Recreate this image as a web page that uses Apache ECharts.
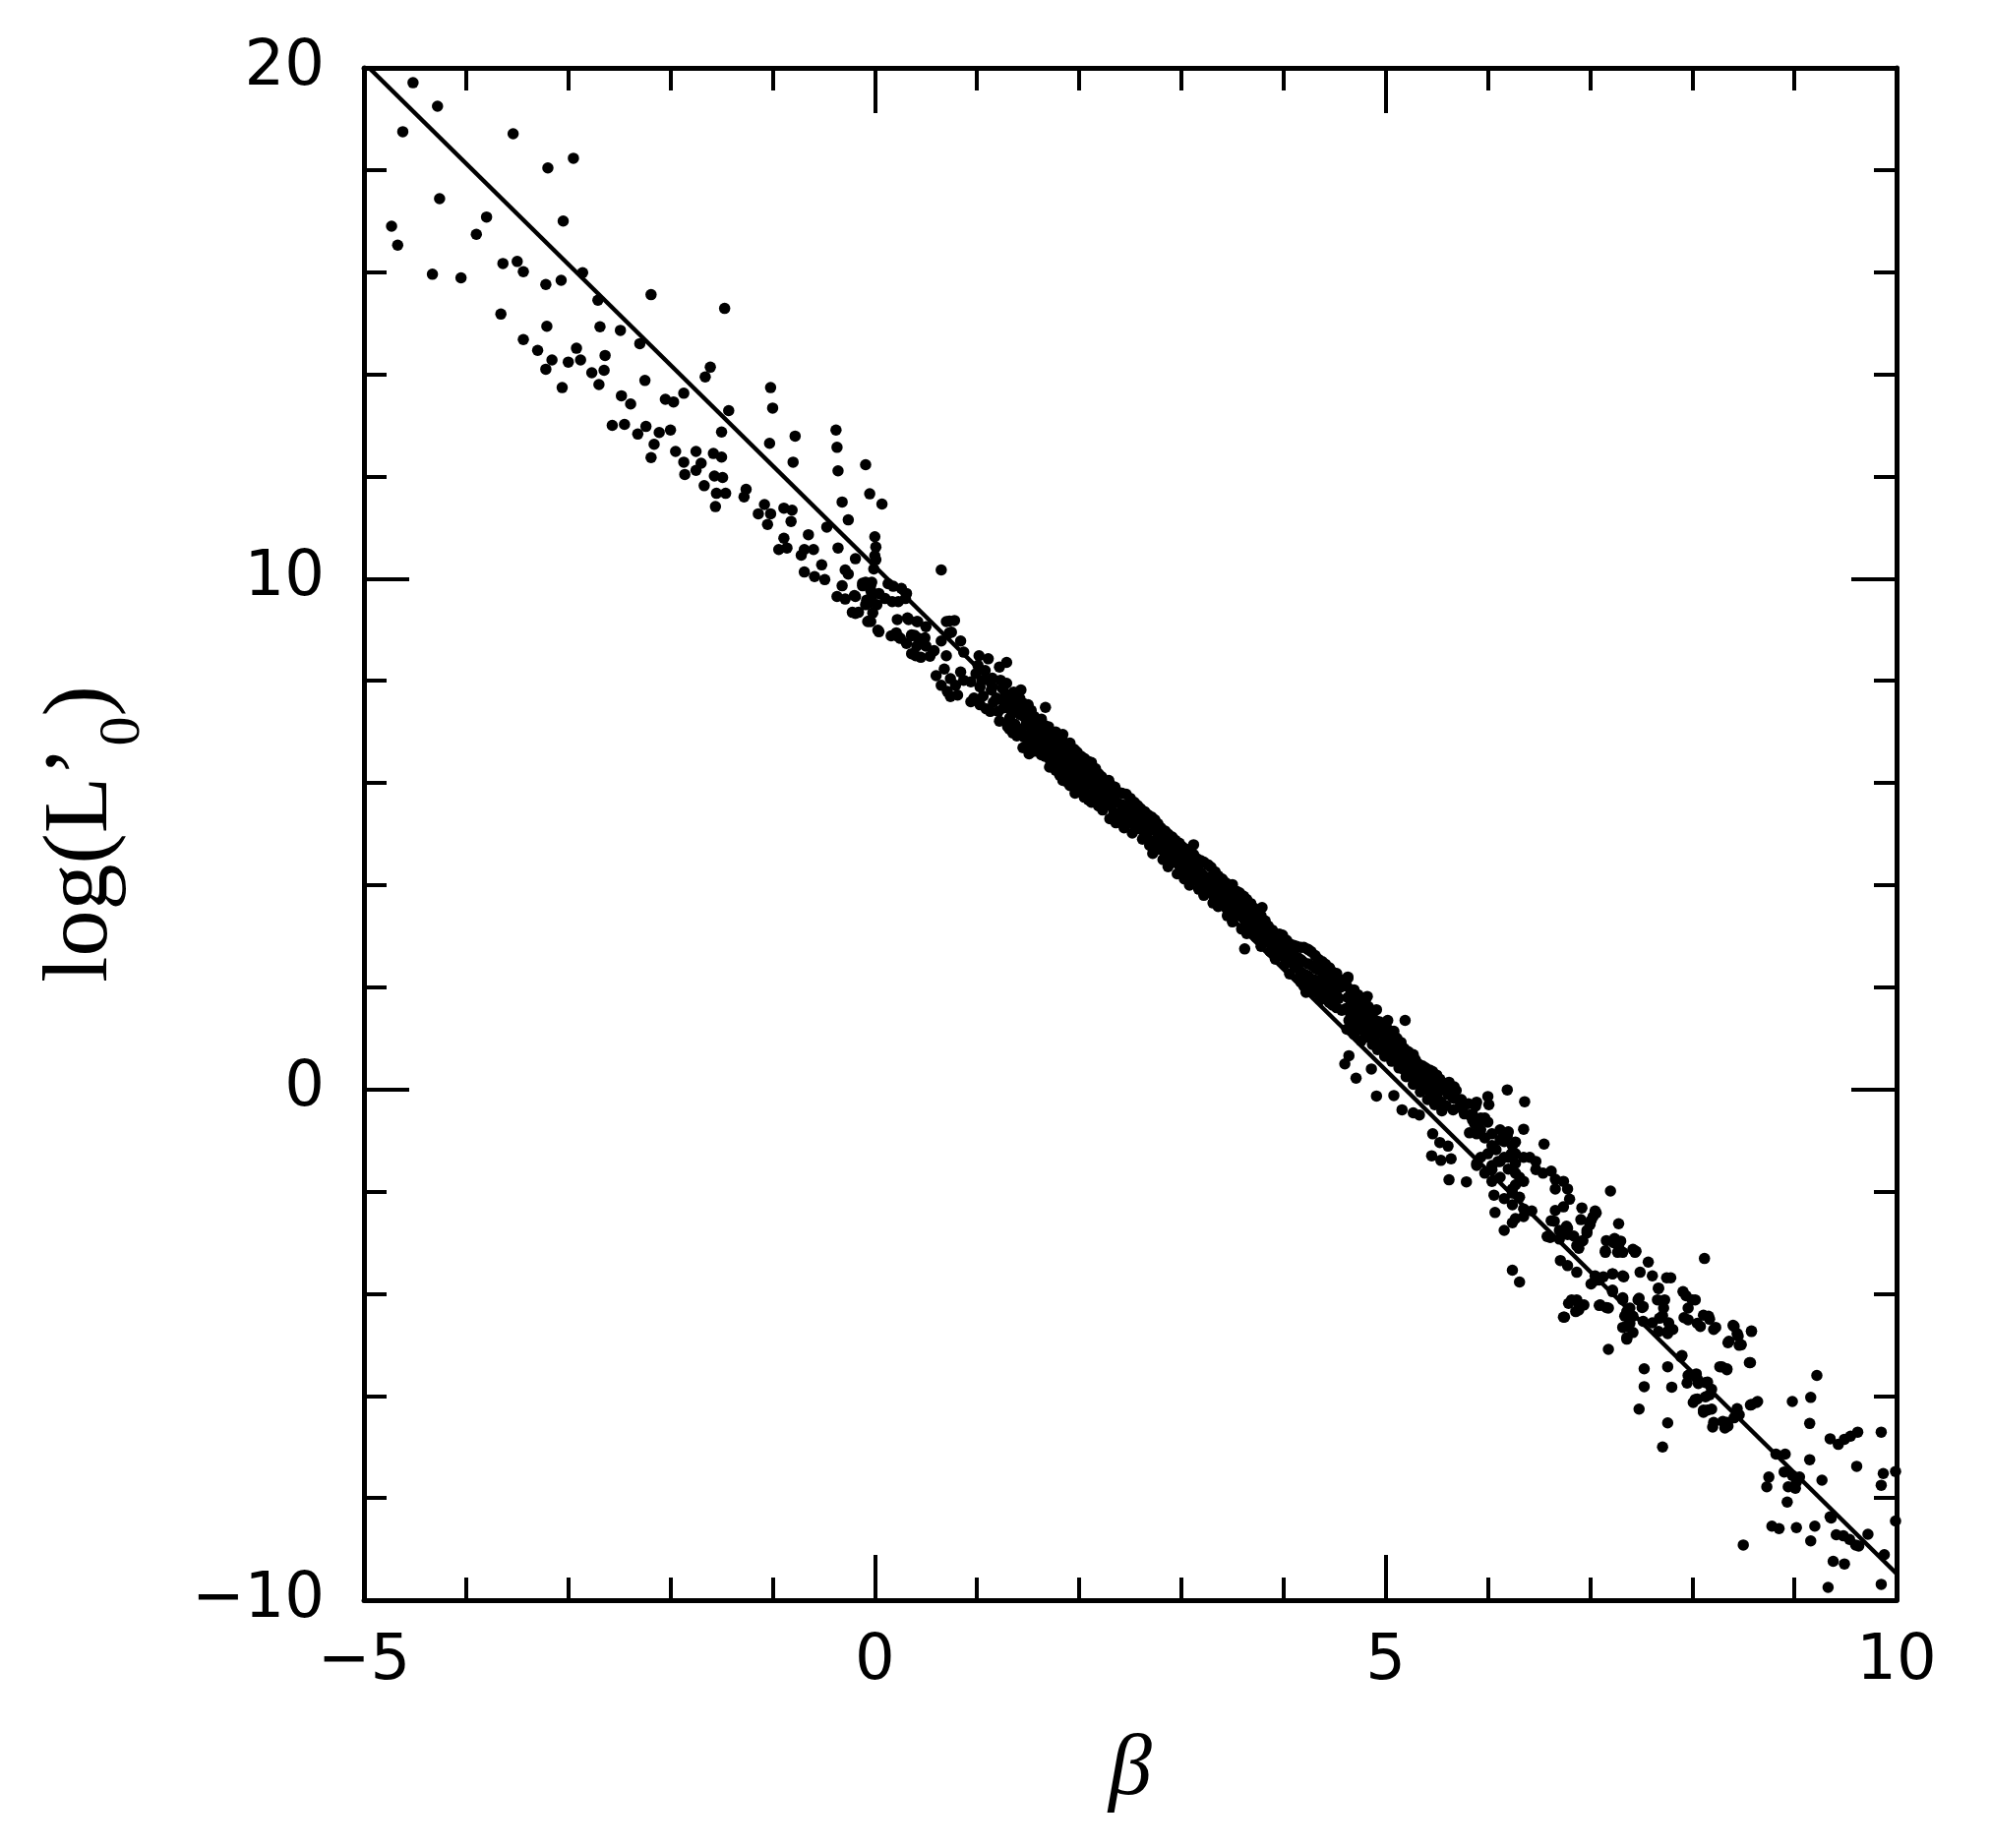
<!DOCTYPE html>
<html><head><meta charset="utf-8">
<script src="https://cdn.jsdelivr.net/npm/echarts@6/dist/echarts.min.js"></script>
<style>html,body{margin:0;padding:0;background:#fff}#c{width:2023px;height:1879px}</style>
</head><body><div id="c"></div>
<script>
// axis settings
const xMin = -5, xMax = 10, xStep = 5;
const yMin = -10, yMax = 20, yStep = 10;
const xName = 'β';

// fitted straight line (endpoints)
const fitLine = [[-4.95, 20], [10, -9.48]];

// scattered points, upper-left branch (beta < 0.9)
const upperBranch = [
[-4.52,19.71],[-4.28,19.25],[-4.62,18.75],[-3.54,18.71],[-2.95,18.23],[-3.20,18.04],[-4.26,17.44],[-4.73,16.90],[-4.67,16.53],[-3.80,17.08],
[-3.90,16.74],[-3.05,17.00],[-3.64,16.17],[-3.50,16.21],[-3.44,16.01],[-4.33,15.96],[-4.05,15.89],[-2.86,15.99],[-3.22,15.76],[-3.07,15.84],
[-2.71,15.45],[-2.19,15.56],[-3.66,15.18],[-3.21,14.94],[-2.69,14.93],[-2.49,14.86],[-1.47,15.29],[-3.44,14.68],[-3.30,14.47],[-3.16,14.28],
[-3.22,14.10],[-3.00,14.24],[-2.92,14.51],[-2.88,14.28],[-2.64,14.37],[-2.77,14.03],[-2.65,14.08],[-2.70,13.80],[-3.06,13.74],[-2.30,14.60],
[-2.25,13.88],[-2.48,13.58],[-2.39,13.42],[-2.05,13.51],[-1.97,13.46],[-1.87,13.63],[-1.66,13.95],[-1.61,14.14],[-1.02,13.74],[-1.00,13.34],
[-1.43,13.29],[-2.57,13.00],[-2.45,13.02],[-2.32,12.83],[-2.24,12.98],[-2.11,12.86],[-2.00,12.91],[-2.16,12.63],[-2.19,12.37],[-1.50,12.87],
[-1.03,12.65],[-0.78,12.79],[-0.80,12.28],[-0.38,12.91],[-0.37,12.57],[-0.36,12.11],[-0.09,12.23],[-0.05,11.66],[0.07,11.46],[-0.32,11.50],
[-0.26,11.15],[-1.95,12.49],[-1.87,12.28],[-1.86,12.04],[-1.75,12.49],[-1.70,12.26],[-1.75,12.12],[-1.58,12.45],[-1.50,12.38],[-1.67,11.82],
[-1.57,12.01],[-1.49,11.98],[-1.55,11.67],[-1.46,11.67],[-1.56,11.41],[-1.26,11.75],[-1.28,11.60],[-1.08,11.45],[-1.14,11.27],[-1.02,11.27],
[-1.05,11.06],[-0.89,11.38],[-0.81,11.34],[-0.82,11.12],[-0.89,10.79],[-0.94,10.57],[-0.86,10.60],[-0.65,10.86],[-0.69,10.57],[-0.72,10.46],
[-0.60,10.57],[-0.52,10.27],[-0.69,10.13],[-0.59,10.04],[-0.47,11.01],[-0.36,10.60],[-0.49,9.98],[-0.32,9.86],[-0.37,9.65],[-0.26,10.09],
[-0.19,10.39],[-0.29,10.17],[-0.12,9.91],[-0.04,9.87],[-0.19,9.65],[-0.08,9.58],[-0.19,9.32],[-0.06,9.17],[0.03,8.99],
[0.00,10.82],[0.01,10.62],[0.00,10.45],[-0.29,9.60],[-0.20,9.67],[-0.12,9.86],[-0.09,9.93],[-0.03,9.71],[0.02,9.49],[-0.09,9.49],
[-0.16,9.34],[-0.22,9.34],[-0.07,9.16],[0.04,8.96],
[0.01,10.37],[-0.01,10.19],[-0.03,9.93],[-0.04,9.77],[-0.03,9.65],[-0.06,9.52],[-0.02,9.33],[-0.04,9.16],[0.04,9.71],[0.10,9.61],
[0.17,9.55],[0.23,9.55],[0.30,9.61],[0.31,9.71],[0.26,9.81],[0.18,9.85],[0.13,9.90],[0.65,10.17],[0.22,9.20],[0.33,9.20],
[0.42,9.16],[0.50,9.06],[0.23,8.86],[0.31,8.73],[0.39,8.89],[0.46,8.78],[0.50,8.68],[0.40,8.49],[0.54,8.48],[0.58,8.59],
[0.70,9.16],[0.78,9.18],[0.65,8.78],[0.84,8.78],[0.73,8.94],[0.70,8.49],[0.87,8.56],[0.60,8.10],[0.68,8.23],[0.74,8.04],
[0.65,7.91],[0.71,7.79],[0.79,7.91],[0.84,8.17],[0.87,8.01],[0.81,7.72],[0.74,7.69],[0.32,9.23],[0.41,9.16],[0.21,8.94],
[0.25,8.83],[0.36,8.90],[0.43,8.83],[0.41,8.68],[0.36,8.53],[0.45,8.46],[0.16,8.88],[0.36,8.88],[0.49,8.84],[0.73,9.17],[0.75,8.95]
];

// dense band, beta 0.9 .. 2.4
const bandUpper = [
[1.02,8.49],[1.11,8.43],[1.22,8.27],[1.29,8.36],[0.99,8.14],[1.05,8.01],[1.13,7.98],[1.23,8.01],[1.29,7.95],[0.94,7.98],
[0.97,7.66],[1.03,7.53],[1.13,7.40],[0.94,7.59],[1.43,7.82],[1.50,7.53],[1.67,7.48],[1.66,7.13],
[1.19,7.66],[1.26,7.47],[1.35,7.53],[1.22,7.21],[1.32,7.27],[1.42,7.34],[1.32,7.05],[1.39,6.92],[1.48,7.14],[1.51,6.95],
[1.58,7.21],[1.64,7.08],[1.45,6.69],[1.51,6.57],[1.58,6.76],[1.68,6.69],[1.71,6.95],[1.77,6.89],[1.84,6.82],[1.90,6.69],
[1.96,6.63],[2.00,6.44],[1.90,6.44],[1.84,6.37],[1.77,6.44],[1.71,6.31],[1.84,6.18],[1.90,6.05],[1.96,6.12],[2.03,6.24],
[2.09,6.31],[2.16,6.18],[2.22,6.12],[2.29,6.05],[2.35,5.92],[2.16,5.92],[2.09,5.99],[2.03,5.92],[1.96,5.80],[2.09,5.67],
[2.22,5.67],[2.32,5.67],
[1.01,8.30],[1.03,7.88],[1.08,8.20],[1.06,7.70],[1.09,7.45],[1.15,8.05],[1.14,7.82],[1.16,7.58],[1.21,7.40],
[1.28,7.75],[1.27,7.55],[1.30,7.10],[1.36,7.78],[1.34,7.38],[1.37,7.15],[1.35,6.98],[1.42,7.65],[1.41,7.48],[1.43,7.02],
[1.49,7.40],[1.48,7.25],[1.50,6.78],[1.56,7.30],[1.55,7.05],[1.57,6.88],[1.56,6.62],[1.63,7.25],[1.62,7.00],[1.64,6.82],
[1.63,6.55],[1.70,7.10],[1.69,6.85],[1.71,6.60],[1.72,6.42],[1.77,7.00],[1.76,6.75],[1.78,6.55],[1.77,6.25],[1.84,6.95],
[1.83,6.65],[1.85,6.48],[1.84,6.05],[1.91,6.78],[1.90,6.55],[1.92,6.30],[1.91,5.95],[1.98,6.60],[1.97,6.42],[1.99,6.22],
[1.98,5.98],[2.05,6.48],[2.04,6.30],[2.06,6.08],[2.05,5.85],[2.05,5.72],[2.12,6.40],[2.11,6.15],[2.13,5.80],[2.12,5.62],
[2.19,6.18],[2.18,5.98],[2.20,5.78],[2.19,5.55],
[1.25,7.85],[1.25,7.62],[1.32,7.70],[1.32,7.45],[1.32,7.20],[1.39,7.62],[1.39,7.40],[1.39,7.08],[1.46,7.55],[1.46,7.30],
[1.46,6.90],[1.53,7.42],[1.53,7.18],[1.53,6.70],[1.60,7.12],[1.60,6.92],[1.60,6.72],[1.67,7.00],[1.67,6.78],[1.67,6.52],
[1.74,6.92],[1.74,6.70],[1.74,6.42],[1.81,6.82],[1.81,6.60],[1.81,6.32],[1.81,6.15],[1.88,6.72],[1.88,6.50],[1.88,6.22],
[1.88,6.02],[1.95,6.66],[1.95,6.46],[1.95,6.16],[1.95,5.92],[2.02,6.52],[2.02,6.33],[2.02,6.12],[2.02,5.88],[2.09,6.42],
[2.09,6.22],[2.09,6.00],[2.09,5.74],[2.16,6.28],[2.16,6.06],[2.16,5.86],[2.16,5.66]
];

// dense band, beta 2.2 .. 4.6
const bandMiddle = [
[2.22,6.05],[2.24,5.85],[2.21,5.65],[2.23,5.47],[2.30,5.98],[2.29,5.78],[2.31,5.55],[2.30,5.30],
[2.38,5.82],[2.37,5.62],[2.39,5.40],[2.36,5.22],[2.46,5.78],[2.45,5.55],[2.47,5.33],[2.44,5.12],
[2.54,5.62],[2.53,5.40],[2.55,5.20],[2.52,5.02],[2.60,5.50],[2.61,5.30],[2.59,5.10],[2.62,4.90],
[2.67,5.38],[2.68,5.18],[2.66,4.97],[2.69,4.78],[2.74,5.28],[2.73,5.08],[2.75,4.88],[2.72,4.62],
[2.80,5.12],[2.81,4.92],[2.79,4.70],[2.82,4.50],[2.87,5.00],[2.86,4.80],[2.88,4.58],[2.87,4.36],
[2.94,4.88],[2.95,4.66],[2.93,4.45],[2.96,4.22],[3.01,4.75],[3.02,4.55],[3.00,4.33],[3.03,4.12],
[3.08,4.66],[3.07,4.43],[3.09,4.22],[3.08,4.00],[3.15,4.52],[3.16,4.30],[3.14,4.10],[3.17,3.92],
[3.22,4.45],[3.21,4.20],[3.23,3.98],[3.22,3.80],[3.29,4.35],[3.30,4.10],[3.28,3.88],[3.31,3.65],
[3.36,4.18],[3.35,3.98],[3.37,3.75],[3.36,3.58],[3.43,4.05],[3.44,3.85],[3.42,3.62],[3.45,3.40],
[3.50,3.92],[3.49,3.72],[3.51,3.50],[3.50,3.28],[3.57,3.85],[3.58,3.62],[3.56,3.40],[3.59,3.14],
[3.64,3.72],[3.63,3.50],[3.65,3.28],[3.64,3.05],[3.71,3.55],[3.72,3.36],[3.70,3.15],[3.73,2.98],
[3.78,3.40],[3.77,3.22],[3.79,3.02],[3.78,2.80],[3.85,3.20],[3.86,3.05],[3.84,2.88],[3.87,2.70],
[3.92,3.05],[3.91,2.95],[3.93,2.78],[3.92,2.55],[3.99,3.02],[4.00,2.82],[3.98,2.62],[4.01,2.44],
[4.06,2.85],[4.05,2.70],[4.07,2.50],[4.06,2.26],[4.13,2.80],[4.14,2.58],[4.12,2.38],[4.15,2.18],
[4.20,2.78],[4.19,2.50],[4.21,2.25],[4.20,2.02],[4.22,1.90],[4.27,2.70],[4.28,2.42],[4.26,2.18],[4.29,1.95],
[4.34,2.55],[4.33,2.35],[4.35,2.10],[4.34,1.88],[4.36,1.75],[4.41,2.45],[4.42,2.22],[4.40,2.00],[4.43,1.75],
[4.48,2.30],[4.47,2.12],[4.49,1.90],[4.48,1.65],[4.55,2.15],[4.56,2.00],[4.54,1.78],[4.57,1.55],
[3.12,4.79],[3.50,4.01],[3.79,3.56],[3.62,2.75],[4.52,2.27],[4.63,2.18],
[2.26,5.95],[2.26,5.75],[2.26,5.56],[2.34,5.90],[2.34,5.68],[2.34,5.42],[2.42,5.80],[2.42,5.58],[2.42,5.30],
[2.50,5.70],[2.50,5.47],[2.50,5.22],[2.57,5.56],[2.57,5.35],[2.57,5.12],[2.64,5.44],[2.64,5.22],[2.64,5.00],
[2.71,5.33],[2.71,5.12],[2.71,4.86],[2.77,5.20],[2.77,5.00],[2.77,4.76],[2.84,5.06],[2.84,4.86],[2.84,4.62],
[2.91,4.94],[2.91,4.72],[2.91,4.50],[2.98,4.82],[2.98,4.60],[2.98,4.38],[3.05,4.70],[3.05,4.48],[3.05,4.26],
[3.12,4.60],[3.12,4.36],[3.12,4.14],[3.19,4.48],[3.19,4.25],[3.19,4.02],[3.26,4.40],[3.26,4.15],[3.26,3.92],
[3.33,4.26],[3.33,4.04],[3.33,3.80],[3.40,4.12],[3.40,3.90],[3.40,3.68],[3.47,4.00],[3.47,3.78],[3.47,3.55],
[3.54,3.88],[3.54,3.66],[3.54,3.44],[3.61,3.78],[3.61,3.56],[3.61,3.34],[3.68,3.64],[3.68,3.43],[3.68,3.21],
[3.75,3.48],[3.75,3.29],[3.75,3.08],[3.82,3.30],[3.82,3.13],[3.82,2.95],[3.89,3.12],[3.89,2.98],[3.89,2.80],
[3.96,3.04],[3.96,2.86],[3.96,2.68],[4.03,2.92],[4.03,2.76],[4.03,2.56],[4.10,2.82],[4.10,2.64],[4.10,2.44],
[4.17,2.78],[4.17,2.54],[4.17,2.30],[4.17,2.10],[4.24,2.74],[4.24,2.46],[4.24,2.22],[4.24,2.00],
[4.31,2.62],[4.31,2.38],[4.31,2.14],[4.31,1.92],[4.38,2.50],[4.38,2.28],[4.38,2.05],[4.38,1.82],
[4.45,2.38],[4.45,2.17],[4.45,1.95],[4.45,1.70],[4.52,2.22],[4.52,2.06],[4.52,1.84],[4.52,1.60]
];

// dense band, beta 4.6 .. 5.9
const bandLower = [
[4.62,2.02],[4.63,1.80],[4.61,1.58],[4.64,1.35],[4.62,1.18],[4.69,1.95],[4.70,1.72],[4.68,1.50],[4.71,1.28],[4.69,1.08],
[4.76,1.78],[4.77,1.58],[4.75,1.36],[4.78,1.15],[4.76,0.95],[4.83,1.62],[4.84,1.40],[4.82,1.20],[4.85,1.00],
[4.90,1.35],[4.91,1.15],[4.89,0.95],[4.92,0.78],[4.97,1.28],[4.98,1.05],[4.96,0.85],[4.99,0.65],
[5.04,1.15],[5.05,0.95],[5.03,0.75],[5.06,0.55],[5.11,1.00],[5.12,0.82],[5.10,0.62],[5.13,0.42],
[5.18,0.80],[5.19,0.60],[5.17,0.40],[5.20,0.25],[5.25,0.68],[5.26,0.48],[5.24,0.28],[5.27,0.10],
[5.32,0.50],[5.33,0.32],[5.31,0.12],[5.34,-0.05],[5.39,0.42],[5.40,0.22],[5.38,0.02],[5.41,-0.20],
[5.46,0.35],[5.47,0.12],[5.45,-0.08],[5.48,-0.30],[5.53,0.20],[5.54,0.00],[5.52,-0.22],[5.55,-0.42],
[5.60,0.12],[5.61,-0.10],[5.59,-0.32],[5.67,0.05],[5.68,-0.18],[5.66,-0.40],[5.74,-0.20],[5.75,-0.38],
[5.81,-0.28],[5.82,-0.50],
[4.66,1.90],[4.66,1.68],[4.66,1.45],[4.66,1.22],[4.73,1.85],[4.73,1.62],[4.73,1.40],[4.73,1.18],
[4.80,1.70],[4.80,1.48],[4.80,1.26],[4.80,1.05],[4.87,1.50],[4.87,1.30],[4.87,1.08],[4.87,0.88],
[4.94,1.32],[4.94,1.10],[4.94,0.88],[5.01,1.20],[5.01,1.00],[5.01,0.78],[5.08,1.06],[5.08,0.88],[5.08,0.66],
[5.15,0.92],[5.15,0.70],[5.15,0.50],[5.22,0.74],[5.22,0.54],[5.22,0.34],[5.29,0.58],[5.29,0.40],[5.29,0.20],
[5.36,0.46],[5.36,0.27],[5.36,0.07],[5.43,0.38],[5.43,0.18],[5.43,-0.04],[5.50,0.28],[5.50,0.06],[5.50,-0.14],
[4.92,1.30],[5.00,1.07],[5.08,1.14],[5.11,0.91],[5.19,0.76],[5.04,0.83],[5.27,0.68],[5.35,0.45],[5.23,0.45],[5.31,0.22],
[5.42,0.29],[5.50,0.14],[5.58,-0.02],[5.46,-0.02],[5.54,-0.25],[5.66,-0.17],[5.73,-0.33],[5.62,0.14],[5.69,-0.02],[5.39,0.06],
[5.50,-0.17],[5.77,-0.48],
[4.63,2.20],[4.82,1.82],[4.91,1.56],[5.02,1.35],[5.19,1.35],[4.64,0.66],[4.60,0.50],[4.71,0.22],[4.86,0.40],[4.91,-0.13],
[5.08,-0.12],[5.16,-0.40],[5.27,-0.46],[5.33,-0.50],[5.46,-0.87],[5.53,-1.04],[5.61,-1.11],[5.45,-1.30],[5.54,-1.39],[5.64,-1.36],
[5.62,-1.77],[5.79,-1.81],[6.19,-0.01],[6.36,-0.24],[6.00,-0.14],[6.01,-0.30],[6.35,-0.78],[6.55,-1.07],[5.88,-0.33],[5.85,-0.49],
[5.91,-0.66],[5.90,-0.82],[5.82,-0.85]
];

// lower-right tail (beta > 5.8)
const lowerTail = [
[5.89,-0.25],[5.97,-0.56],[5.87,-0.67],[5.93,-0.79],[6.04,-1.10],[6.12,-0.99],[6.19,-0.91],[6.27,-1.03],[6.23,-1.26],[6.16,-1.33],
[6.10,-1.41],[6.27,-1.45],[6.35,-1.33],[6.41,-1.33],[6.47,-1.41],[5.89,-1.49],[5.97,-1.64],[6.04,-1.57],[6.06,-2.07],[6.16,-2.14],
[6.24,-2.03],[6.27,-1.87],[6.31,-1.72],[6.07,-2.41],[6.16,-2.76],[6.24,-2.61],[6.27,-2.53],[6.35,-2.49],[6.43,-2.38],[6.24,-3.54],
[6.31,-3.77],[6.47,-1.57],[6.54,-1.64],[6.62,-1.60],[6.66,-1.76],[6.74,-1.80],[6.78,-1.95],[6.66,-1.95],[6.80,-2.15],[6.74,-2.30],
[6.66,-2.37],[6.62,-2.57],[6.70,-2.76],[6.78,-2.72],[6.58,-2.88],[6.92,-2.32],[7.05,-2.38],[7.01,-2.57],[6.97,-2.76],[6.93,-2.96],
[6.89,-3.11],[7.20,-1.99],[7.28,-2.63],[7.16,-2.96],[7.24,-2.92],[7.28,-3.07],[7.15,-3.19],[7.32,-3.19],[7.45,-3.17],[8.12,-3.31],
[5.85,-0.60],[5.93,-0.56],[6.00,-0.64],[5.89,-0.87],[5.97,-0.95],[6.04,-0.87],[6.12,-0.79],[6.20,-0.83],[6.16,-1.02],[6.24,-1.10],
[6.08,-1.18],[6.00,-1.26],[5.93,-1.33],[5.89,-1.45],[6.04,-1.49],[6.12,-1.41],[6.20,-1.33],[6.27,-1.26],[6.20,-1.56],[6.27,-1.64],
[6.35,-1.80],[6.12,-1.72],[6.04,-1.80],[6.24,-1.95],[6.31,-2.11],[6.24,-2.26],[6.35,-2.34],
[7.75,-3.69],[7.76,-5.43],[7.80,-5.83],[7.53,-5.47],[7.53,-5.82],[7.48,-6.26],[7.76,-6.53],[7.71,-7.00],
[7.89,-5.24],[7.97,-5.59],[8.05,-5.67],[8.13,-5.74],[8.17,-5.98],[8.05,-6.06],[8.01,-6.13],[8.15,-6.28],[8.11,-6.32],[8.21,-6.52],
[8.34,-6.52],[8.32,-6.63],[8.44,-6.25],[8.58,-6.17],[8.63,-6.13],[8.27,-5.43],[8.34,-5.47],[8.56,-5.35],
[8.40,-4.62],[8.44,-4.78],[8.58,-4.74],[8.46,-5.01],[8.36,-4.93],[8.23,-4.66],[8.17,-4.50],[8.11,-4.42],[8.05,-4.58],[7.94,-4.04],
[8.00,-4.12],[7.92,-4.47],[7.91,-3.96],
[7.47,-4.12],[7.36,-4.35],[7.32,-4.66],[7.36,-4.89],[7.39,-4.58],[7.51,-4.27],[7.66,-4.12],[7.71,-4.43],[7.76,-4.74],[7.67,-4.74],
[7.61,-3.65],[7.57,-3.38],[7.49,-3.58],[7.67,-3.89],
[6.74,-4.46],[6.82,-4.12],[6.89,-4.20],[6.86,-4.35],[7.09,-4.23],[7.16,-4.27],[7.22,-3.96],[7.32,-4.12],[7.22,-3.61],[7.32,-3.65],
[7.18,-5.09],[7.05,-3.65],[7.01,-3.81],[7.09,-3.73],
[8.03,-4.12],[7.96,-4.28],[7.96,-4.51],[8.16,-4.44],[8.08,-4.64],[8.21,-4.70],[8.41,-4.64],[8.58,-4.73],[8.45,-4.83],[8.35,-4.96],
[8.48,-5.00],[8.57,-5.35],[8.29,-5.43],[8.34,-5.49],[9.22,-5.60],[9.16,-6.03],[8.98,-6.11],[9.15,-6.54],[9.35,-6.84],[9.43,-6.95],
[9.49,-6.85],[9.55,-6.79],[9.62,-6.71],[9.85,-6.71],[9.15,-7.25],[9.61,-7.38],[9.87,-7.52],[9.99,-7.48],[9.85,-7.75],[9.27,-7.65],
[8.82,-7.14],[8.91,-7.14],[8.90,-7.49],[8.98,-7.56],[9.02,-7.69],[8.94,-7.78],[9.01,-7.81],[9.05,-7.59],[8.75,-7.59],[8.73,-7.78],
[8.93,-8.08],[9.99,-8.45],[9.36,-8.39],[8.78,-8.55],[8.85,-8.60],[9.02,-8.58],[9.20,-8.55],[9.48,-8.74],[9.54,-8.81],[9.63,-8.94],
[9.72,-8.71],[9.16,-8.84],[8.50,-8.92],[9.88,-9.11],[9.38,-9.24],[9.49,-9.29],[9.33,-9.75],[9.85,-9.69],[9.41,-8.72],[9.35,-8.37],[9.60,-8.92],
[7.96,-5.60],[8.04,-5.57],[7.95,-5.75],[8.06,-5.76],[8.15,-5.73],[8.19,-5.87],[8.03,-6.07],[8.13,-6.02],[8.11,-6.28],[8.19,-6.26],
[8.20,-6.61],[8.30,-6.50],[8.35,-6.59],[8.41,-6.43],[8.46,-6.37],[8.57,-6.18],[8.64,-6.11],[7.90,-5.21],[7.79,-3.69],[7.67,-3.90],
[6.75,-4.46],[6.79,-4.19],[6.87,-4.12],[6.94,-4.22],[6.89,-4.32],[7.10,-4.22],[7.18,-4.28],[7.05,-3.74],[7.13,-3.67],[7.22,-3.61],
[7.33,-3.67],[7.22,-3.93],[7.32,-4.08],[7.39,-4.28],[7.34,-4.44],[7.42,-4.44],[7.48,-4.09],[7.52,-4.25],[7.36,-4.64],[7.36,-4.86],
[7.42,-4.76],[7.52,-4.54],[7.61,-4.57],[7.68,-4.48],[7.72,-4.28],[7.73,-4.12],[7.77,-4.57],[7.76,-4.78],[7.81,-4.70],[6.87,-3.58],
[7.23,-3.00],[7.30,-2.97],[7.27,-3.19],[7.42,-3.13],[7.44,-3.19],[7.15,-3.16],[6.71,-3.35],[6.78,-3.45],[6.61,-2.90],[6.70,-2.93],
[6.78,-2.84],[6.84,-2.87],[6.87,-3.06],[6.92,-2.97],[6.97,-2.81],[7.00,-2.65],[7.03,-2.49],[7.06,-2.42],[6.65,-2.58],[6.77,-2.68],[6.91,-2.55]
];

const allPoints = upperBranch.concat(bandUpper, bandMiddle, bandLower, lowerTail);

const minusFmt = v => String(v).replace('-', '\u2212');
const tickFont = 'DejaVu Sans';

function xAxis(position, labels) {
  return {
    type: 'value', position: position, min: xMin, max: xMax, interval: xStep,
    axisLine: { show: true, onZero: false, lineStyle: { color: '#000', width: 5 } },
    axisTick: { show: true, inside: true, length: 46, lineStyle: { color: '#000', width: 4 } },
    minorTick: { show: true, splitNumber: 5, length: 23, lineStyle: { color: '#000', width: 4 } },
    splitLine: { show: false }, minorSplitLine: { show: false },
    axisLabel: { show: labels, formatter: minusFmt, color: '#000', fontSize: 64, fontFamily: tickFont, margin: 31 },
    name: labels ? xName : '', nameLocation: 'middle', nameGap: 130,
    nameTextStyle: { fontFamily: 'Liberation Serif', fontStyle: 'italic', fontSize: 88, color: '#000' }
  };
}
function yAxis(position, labels) {
  return {
    type: 'value', position: position, min: yMin, max: yMax, interval: yStep,
    axisLine: { show: true, onZero: false, lineStyle: { color: '#000', width: 5 } },
    axisTick: { show: true, inside: true, length: 46, lineStyle: { color: '#000', width: 4 } },
    minorTick: { show: true, splitNumber: 5, length: 23, lineStyle: { color: '#000', width: 4 } },
    splitLine: { show: false }, minorSplitLine: { show: false },
    axisLabel: { show: labels, formatter: minusFmt, color: '#000', fontSize: 64, fontFamily: tickFont, margin: 40 },
    name: labels ? 'log(L{p|’}{s|0})' : '', nameLocation: 'middle', nameRotate: 90, nameGap: 215,
    nameTextStyle: {
      fontFamily: 'Liberation Serif', fontSize: 94, color: '#000',
      rich: {
        p: { fontFamily: 'Liberation Serif', fontSize: 94, color: '#000' },
        s: { fontFamily: 'Liberation Serif', fontSize: 60, color: '#000', padding: [84, 0, 0, 0] }
      }
    }
  };
}

const chart = echarts.init(document.getElementById('c'), null, { renderer: 'canvas' });
chart.setOption({
  animation: false,
  backgroundColor: '#fff',
  grid: { left: 370, top: 69, width: 1558, height: 1558, containLabel: false, outerBoundsMode: 'none' },
  xAxis: [xAxis('bottom', true), xAxis('top', false)],
  yAxis: [yAxis('left', true), yAxis('right', false)],
  series: [
    { type: 'line', xAxisIndex: 0, yAxisIndex: 0, data: fitLine, showSymbol: false, symbol: 'none',
      lineStyle: { color: '#000', width: 4.5 }, silent: true, z: 2 },
    { type: 'scatter', xAxisIndex: 0, yAxisIndex: 0, data: allPoints, symbol: 'circle', symbolSize: 11.5,
      itemStyle: { color: '#000', opacity: 1 }, silent: true, z: 3 }
  ]
});
</script>
</body></html>
